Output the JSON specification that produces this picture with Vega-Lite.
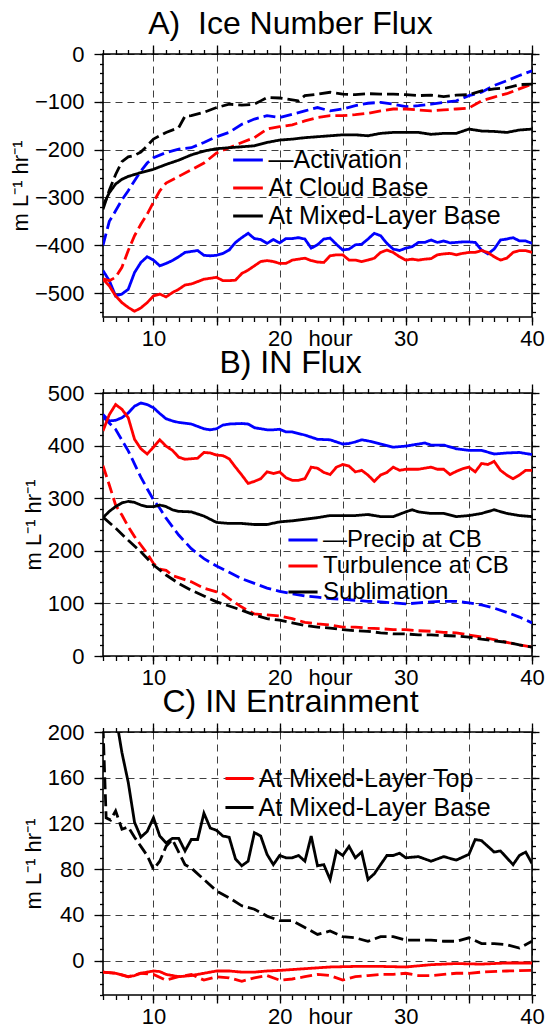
{
"$schema":"https://vega.github.io/schema/vega-lite/v6.json",
"background":"white",
"padding":{"left":8,"top":7,"right":0,"bottom":0},
"config":{
 "font":"Liberation Sans",
 "view":{"stroke":"black","strokeWidth":1.6},
 "axis":{"domain":false,"labelFont":"Liberation Sans","labelFontSize":22,"labelColor":"#000","tickColor":"#000","tickWidth":1.3,"gridColor":"#000","gridDash":[7,5],"gridOpacity":0.75,"gridWidth":1,"titleFont":"Liberation Sans","titleFontSize":22,"titleFontWeight":"normal","titleColor":"#000","labelFlush":false,"labelOverlap":false,"labelBound":false,"grid":false},
 "title":{"font":"Liberation Sans","fontSize":32,"fontWeight":"normal","color":"#000","anchor":"middle","frame":"group","offset":2,"dx":-27},
 "legend":{"orient":"none","title":null,"symbolStrokeWidth":3,"labelFont":"Liberation Sans","labelFontSize":25,"labelColor":"#000","padding":0,"labelLimit":400,"rowPadding":0},
 "concat":{"spacing":-4}
},
"resolve":{"scale":{"x":"independent","y":"independent","color":"independent","strokeDash":"independent"}},
"vconcat":[
{
 "title":{"text":"A)\u00a0\u00a0Ice Number Flux"},
 "width":429,"height":263,
 "data":{"values":[
{"h":6,"v":-453,"s":"Activation","d":"solid"},{"h":6.5,"v":-474,"s":"Activation","d":"solid"},{"h":7,"v":-506,"s":"Activation","d":"solid"},{"h":7.5,"v":-502,"s":"Activation","d":"solid"},{"h":8,"v":-492,"s":"Activation","d":"solid"},{"h":8.5,"v":-457,"s":"Activation","d":"solid"},{"h":9,"v":-436,"s":"Activation","d":"solid"},{"h":9.5,"v":-424,"s":"Activation","d":"solid"},{"h":10,"v":-431,"s":"Activation","d":"solid"},{"h":10.5,"v":-443,"s":"Activation","d":"solid"},{"h":11,"v":-438,"s":"Activation","d":"solid"},{"h":11.5,"v":-432,"s":"Activation","d":"solid"},{"h":12,"v":-424,"s":"Activation","d":"solid"},{"h":12.5,"v":-415,"s":"Activation","d":"solid"},{"h":13,"v":-413,"s":"Activation","d":"solid"},{"h":13.5,"v":-411,"s":"Activation","d":"solid"},{"h":14,"v":-421,"s":"Activation","d":"solid"},{"h":14.5,"v":-422,"s":"Activation","d":"solid"},{"h":15,"v":-421,"s":"Activation","d":"solid"},{"h":15.5,"v":-417,"s":"Activation","d":"solid"},{"h":16,"v":-410,"s":"Activation","d":"solid"},{"h":16.5,"v":-394,"s":"Activation","d":"solid"},{"h":17,"v":-384,"s":"Activation","d":"solid"},{"h":17.5,"v":-375,"s":"Activation","d":"solid"},{"h":18,"v":-386,"s":"Activation","d":"solid"},{"h":18.5,"v":-388,"s":"Activation","d":"solid"},{"h":19,"v":-396,"s":"Activation","d":"solid"},{"h":19.5,"v":-388,"s":"Activation","d":"solid"},{"h":20,"v":-395,"s":"Activation","d":"solid"},{"h":20.5,"v":-386,"s":"Activation","d":"solid"},{"h":21,"v":-386,"s":"Activation","d":"solid"},{"h":21.5,"v":-384,"s":"Activation","d":"solid"},{"h":22,"v":-387,"s":"Activation","d":"solid"},{"h":22.5,"v":-406,"s":"Activation","d":"solid"},{"h":23,"v":-399,"s":"Activation","d":"solid"},{"h":23.5,"v":-387,"s":"Activation","d":"solid"},{"h":24,"v":-385,"s":"Activation","d":"solid"},{"h":24.5,"v":-398,"s":"Activation","d":"solid"},{"h":25,"v":-410,"s":"Activation","d":"solid"},{"h":25.5,"v":-408,"s":"Activation","d":"solid"},{"h":26,"v":-399,"s":"Activation","d":"solid"},{"h":26.5,"v":-398,"s":"Activation","d":"solid"},{"h":27,"v":-387,"s":"Activation","d":"solid"},{"h":27.5,"v":-375,"s":"Activation","d":"solid"},{"h":28,"v":-380,"s":"Activation","d":"solid"},{"h":28.5,"v":-396,"s":"Activation","d":"solid"},{"h":29,"v":-408,"s":"Activation","d":"solid"},{"h":29.5,"v":-411,"s":"Activation","d":"solid"},{"h":30,"v":-406,"s":"Activation","d":"solid"},{"h":30.5,"v":-403,"s":"Activation","d":"solid"},{"h":31,"v":-394,"s":"Activation","d":"solid"},{"h":31.5,"v":-394,"s":"Activation","d":"solid"},{"h":32,"v":-389,"s":"Activation","d":"solid"},{"h":32.5,"v":-394,"s":"Activation","d":"solid"},{"h":33,"v":-391,"s":"Activation","d":"solid"},{"h":33.5,"v":-395,"s":"Activation","d":"solid"},{"h":34,"v":-394,"s":"Activation","d":"solid"},{"h":34.5,"v":-393,"s":"Activation","d":"solid"},{"h":35,"v":-393,"s":"Activation","d":"solid"},{"h":35.5,"v":-394,"s":"Activation","d":"solid"},{"h":36,"v":-410,"s":"Activation","d":"solid"},{"h":36.5,"v":-418,"s":"Activation","d":"solid"},{"h":37,"v":-408,"s":"Activation","d":"solid"},{"h":37.5,"v":-389,"s":"Activation","d":"solid"},{"h":38,"v":-387,"s":"Activation","d":"solid"},{"h":38.5,"v":-384,"s":"Activation","d":"solid"},{"h":39,"v":-391,"s":"Activation","d":"solid"},{"h":39.5,"v":-391,"s":"Activation","d":"solid"},{"h":40,"v":-396,"s":"Activation","d":"solid"},
{"h":6,"v":-400,"s":"Activation","d":"dashed"},{"h":6.5,"v":-350,"s":"Activation","d":"dashed"},{"h":7,"v":-328,"s":"Activation","d":"dashed"},{"h":7.5,"v":-305,"s":"Activation","d":"dashed"},{"h":8,"v":-286,"s":"Activation","d":"dashed"},{"h":8.5,"v":-265,"s":"Activation","d":"dashed"},{"h":9,"v":-245,"s":"Activation","d":"dashed"},{"h":9.5,"v":-228,"s":"Activation","d":"dashed"},{"h":10,"v":-217,"s":"Activation","d":"dashed"},{"h":11,"v":-206,"s":"Activation","d":"dashed"},{"h":12,"v":-199,"s":"Activation","d":"dashed"},{"h":13,"v":-196,"s":"Activation","d":"dashed"},{"h":14,"v":-185,"s":"Activation","d":"dashed"},{"h":15,"v":-173,"s":"Activation","d":"dashed"},{"h":16,"v":-164,"s":"Activation","d":"dashed"},{"h":17,"v":-147,"s":"Activation","d":"dashed"},{"h":18,"v":-136,"s":"Activation","d":"dashed"},{"h":19,"v":-129,"s":"Activation","d":"dashed"},{"h":20,"v":-133,"s":"Activation","d":"dashed"},{"h":21,"v":-126,"s":"Activation","d":"dashed"},{"h":22,"v":-119,"s":"Activation","d":"dashed"},{"h":23,"v":-112,"s":"Activation","d":"dashed"},{"h":24,"v":-119,"s":"Activation","d":"dashed"},{"h":25,"v":-115,"s":"Activation","d":"dashed"},{"h":26,"v":-108,"s":"Activation","d":"dashed"},{"h":27,"v":-103,"s":"Activation","d":"dashed"},{"h":28,"v":-101,"s":"Activation","d":"dashed"},{"h":29,"v":-105,"s":"Activation","d":"dashed"},{"h":30,"v":-110,"s":"Activation","d":"dashed"},{"h":31,"v":-108,"s":"Activation","d":"dashed"},{"h":32,"v":-105,"s":"Activation","d":"dashed"},{"h":33,"v":-101,"s":"Activation","d":"dashed"},{"h":34,"v":-98,"s":"Activation","d":"dashed"},{"h":35,"v":-87,"s":"Activation","d":"dashed"},{"h":36,"v":-80,"s":"Activation","d":"dashed"},{"h":37,"v":-66,"s":"Activation","d":"dashed"},{"h":38,"v":-56,"s":"Activation","d":"dashed"},{"h":39,"v":-45,"s":"Activation","d":"dashed"},{"h":40,"v":-35,"s":"Activation","d":"dashed"},
{"h":6,"v":-471,"s":"At Cloud Base","d":"solid"},{"h":6.5,"v":-485,"s":"At Cloud Base","d":"solid"},{"h":7,"v":-506,"s":"At Cloud Base","d":"solid"},{"h":7.5,"v":-520,"s":"At Cloud Base","d":"solid"},{"h":8,"v":-530,"s":"At Cloud Base","d":"solid"},{"h":8.5,"v":-538,"s":"At Cloud Base","d":"solid"},{"h":9,"v":-531,"s":"At Cloud Base","d":"solid"},{"h":9.5,"v":-520,"s":"At Cloud Base","d":"solid"},{"h":10,"v":-506,"s":"At Cloud Base","d":"solid"},{"h":10.5,"v":-502,"s":"At Cloud Base","d":"solid"},{"h":11,"v":-508,"s":"At Cloud Base","d":"solid"},{"h":11.5,"v":-499,"s":"At Cloud Base","d":"solid"},{"h":12,"v":-492,"s":"At Cloud Base","d":"solid"},{"h":12.5,"v":-483,"s":"At Cloud Base","d":"solid"},{"h":13,"v":-481,"s":"At Cloud Base","d":"solid"},{"h":13.5,"v":-476,"s":"At Cloud Base","d":"solid"},{"h":14,"v":-471,"s":"At Cloud Base","d":"solid"},{"h":14.5,"v":-469,"s":"At Cloud Base","d":"solid"},{"h":15,"v":-467,"s":"At Cloud Base","d":"solid"},{"h":15.5,"v":-474,"s":"At Cloud Base","d":"solid"},{"h":16,"v":-474,"s":"At Cloud Base","d":"solid"},{"h":16.5,"v":-473,"s":"At Cloud Base","d":"solid"},{"h":17,"v":-459,"s":"At Cloud Base","d":"solid"},{"h":17.5,"v":-452,"s":"At Cloud Base","d":"solid"},{"h":18,"v":-443,"s":"At Cloud Base","d":"solid"},{"h":18.5,"v":-434,"s":"At Cloud Base","d":"solid"},{"h":19,"v":-432,"s":"At Cloud Base","d":"solid"},{"h":19.5,"v":-434,"s":"At Cloud Base","d":"solid"},{"h":20,"v":-438,"s":"At Cloud Base","d":"solid"},{"h":20.5,"v":-438,"s":"At Cloud Base","d":"solid"},{"h":21,"v":-431,"s":"At Cloud Base","d":"solid"},{"h":21.5,"v":-429,"s":"At Cloud Base","d":"solid"},{"h":22,"v":-427,"s":"At Cloud Base","d":"solid"},{"h":22.5,"v":-432,"s":"At Cloud Base","d":"solid"},{"h":23,"v":-435,"s":"At Cloud Base","d":"solid"},{"h":23.5,"v":-436,"s":"At Cloud Base","d":"solid"},{"h":24,"v":-422,"s":"At Cloud Base","d":"solid"},{"h":24.5,"v":-420,"s":"At Cloud Base","d":"solid"},{"h":25,"v":-420,"s":"At Cloud Base","d":"solid"},{"h":25.5,"v":-431,"s":"At Cloud Base","d":"solid"},{"h":26,"v":-431,"s":"At Cloud Base","d":"solid"},{"h":26.5,"v":-434,"s":"At Cloud Base","d":"solid"},{"h":27,"v":-431,"s":"At Cloud Base","d":"solid"},{"h":27.5,"v":-427,"s":"At Cloud Base","d":"solid"},{"h":28,"v":-415,"s":"At Cloud Base","d":"solid"},{"h":28.5,"v":-410,"s":"At Cloud Base","d":"solid"},{"h":29,"v":-415,"s":"At Cloud Base","d":"solid"},{"h":29.5,"v":-424,"s":"At Cloud Base","d":"solid"},{"h":30,"v":-431,"s":"At Cloud Base","d":"solid"},{"h":30.5,"v":-429,"s":"At Cloud Base","d":"solid"},{"h":31,"v":-431,"s":"At Cloud Base","d":"solid"},{"h":31.5,"v":-429,"s":"At Cloud Base","d":"solid"},{"h":32,"v":-428,"s":"At Cloud Base","d":"solid"},{"h":32.5,"v":-420,"s":"At Cloud Base","d":"solid"},{"h":33,"v":-418,"s":"At Cloud Base","d":"solid"},{"h":33.5,"v":-417,"s":"At Cloud Base","d":"solid"},{"h":34,"v":-420,"s":"At Cloud Base","d":"solid"},{"h":34.5,"v":-417,"s":"At Cloud Base","d":"solid"},{"h":35,"v":-415,"s":"At Cloud Base","d":"solid"},{"h":35.5,"v":-415,"s":"At Cloud Base","d":"solid"},{"h":36,"v":-411,"s":"At Cloud Base","d":"solid"},{"h":36.5,"v":-415,"s":"At Cloud Base","d":"solid"},{"h":37,"v":-424,"s":"At Cloud Base","d":"solid"},{"h":37.5,"v":-431,"s":"At Cloud Base","d":"solid"},{"h":38,"v":-427,"s":"At Cloud Base","d":"solid"},{"h":38.5,"v":-415,"s":"At Cloud Base","d":"solid"},{"h":39,"v":-411,"s":"At Cloud Base","d":"solid"},{"h":39.5,"v":-411,"s":"At Cloud Base","d":"solid"},{"h":40,"v":-415,"s":"At Cloud Base","d":"solid"},
{"h":6,"v":-470,"s":"At Cloud Base","d":"dashed"},{"h":6.5,"v":-474,"s":"At Cloud Base","d":"dashed"},{"h":7,"v":-467,"s":"At Cloud Base","d":"dashed"},{"h":7.5,"v":-446,"s":"At Cloud Base","d":"dashed"},{"h":8,"v":-411,"s":"At Cloud Base","d":"dashed"},{"h":8.5,"v":-380,"s":"At Cloud Base","d":"dashed"},{"h":9,"v":-356,"s":"At Cloud Base","d":"dashed"},{"h":9.5,"v":-335,"s":"At Cloud Base","d":"dashed"},{"h":10,"v":-310,"s":"At Cloud Base","d":"dashed"},{"h":10.5,"v":-286,"s":"At Cloud Base","d":"dashed"},{"h":11,"v":-270,"s":"At Cloud Base","d":"dashed"},{"h":12,"v":-256,"s":"At Cloud Base","d":"dashed"},{"h":13,"v":-242,"s":"At Cloud Base","d":"dashed"},{"h":14,"v":-228,"s":"At Cloud Base","d":"dashed"},{"h":15,"v":-207,"s":"At Cloud Base","d":"dashed"},{"h":16,"v":-196,"s":"At Cloud Base","d":"dashed"},{"h":17,"v":-185,"s":"At Cloud Base","d":"dashed"},{"h":18,"v":-175,"s":"At Cloud Base","d":"dashed"},{"h":19,"v":-157,"s":"At Cloud Base","d":"dashed"},{"h":20,"v":-152,"s":"At Cloud Base","d":"dashed"},{"h":21,"v":-148,"s":"At Cloud Base","d":"dashed"},{"h":22,"v":-140,"s":"At Cloud Base","d":"dashed"},{"h":23,"v":-133,"s":"At Cloud Base","d":"dashed"},{"h":24,"v":-129,"s":"At Cloud Base","d":"dashed"},{"h":25,"v":-129,"s":"At Cloud Base","d":"dashed"},{"h":26,"v":-127,"s":"At Cloud Base","d":"dashed"},{"h":27,"v":-124,"s":"At Cloud Base","d":"dashed"},{"h":28,"v":-119,"s":"At Cloud Base","d":"dashed"},{"h":29,"v":-115,"s":"At Cloud Base","d":"dashed"},{"h":30,"v":-115,"s":"At Cloud Base","d":"dashed"},{"h":31,"v":-117,"s":"At Cloud Base","d":"dashed"},{"h":32,"v":-119,"s":"At Cloud Base","d":"dashed"},{"h":33,"v":-117,"s":"At Cloud Base","d":"dashed"},{"h":34,"v":-115,"s":"At Cloud Base","d":"dashed"},{"h":35,"v":-113,"s":"At Cloud Base","d":"dashed"},{"h":36,"v":-98,"s":"At Cloud Base","d":"dashed"},{"h":37,"v":-90,"s":"At Cloud Base","d":"dashed"},{"h":38,"v":-83,"s":"At Cloud Base","d":"dashed"},{"h":39,"v":-73,"s":"At Cloud Base","d":"dashed"},{"h":40,"v":-63,"s":"At Cloud Base","d":"dashed"},
{"h":6,"v":-317,"s":"At Mixed-Layer Base","d":"solid"},{"h":6.5,"v":-290,"s":"At Mixed-Layer Base","d":"solid"},{"h":7,"v":-272,"s":"At Mixed-Layer Base","d":"solid"},{"h":7.5,"v":-262,"s":"At Mixed-Layer Base","d":"solid"},{"h":8,"v":-256,"s":"At Mixed-Layer Base","d":"solid"},{"h":9,"v":-248,"s":"At Mixed-Layer Base","d":"solid"},{"h":10,"v":-241,"s":"At Mixed-Layer Base","d":"solid"},{"h":11,"v":-231,"s":"At Mixed-Layer Base","d":"solid"},{"h":12,"v":-222,"s":"At Mixed-Layer Base","d":"solid"},{"h":13,"v":-211,"s":"At Mixed-Layer Base","d":"solid"},{"h":14,"v":-203,"s":"At Mixed-Layer Base","d":"solid"},{"h":15,"v":-198,"s":"At Mixed-Layer Base","d":"solid"},{"h":16,"v":-196,"s":"At Mixed-Layer Base","d":"solid"},{"h":17,"v":-194,"s":"At Mixed-Layer Base","d":"solid"},{"h":18,"v":-192,"s":"At Mixed-Layer Base","d":"solid"},{"h":19,"v":-185,"s":"At Mixed-Layer Base","d":"solid"},{"h":20,"v":-180,"s":"At Mixed-Layer Base","d":"solid"},{"h":21,"v":-178,"s":"At Mixed-Layer Base","d":"solid"},{"h":22,"v":-175,"s":"At Mixed-Layer Base","d":"solid"},{"h":23,"v":-173,"s":"At Mixed-Layer Base","d":"solid"},{"h":24,"v":-171,"s":"At Mixed-Layer Base","d":"solid"},{"h":25,"v":-169,"s":"At Mixed-Layer Base","d":"solid"},{"h":26,"v":-169,"s":"At Mixed-Layer Base","d":"solid"},{"h":27,"v":-171,"s":"At Mixed-Layer Base","d":"solid"},{"h":28,"v":-166,"s":"At Mixed-Layer Base","d":"solid"},{"h":29,"v":-164,"s":"At Mixed-Layer Base","d":"solid"},{"h":30,"v":-164,"s":"At Mixed-Layer Base","d":"solid"},{"h":31,"v":-164,"s":"At Mixed-Layer Base","d":"solid"},{"h":32,"v":-168,"s":"At Mixed-Layer Base","d":"solid"},{"h":33,"v":-166,"s":"At Mixed-Layer Base","d":"solid"},{"h":34,"v":-166,"s":"At Mixed-Layer Base","d":"solid"},{"h":35,"v":-157,"s":"At Mixed-Layer Base","d":"solid"},{"h":36,"v":-161,"s":"At Mixed-Layer Base","d":"solid"},{"h":37,"v":-162,"s":"At Mixed-Layer Base","d":"solid"},{"h":38,"v":-164,"s":"At Mixed-Layer Base","d":"solid"},{"h":39,"v":-159,"s":"At Mixed-Layer Base","d":"solid"},{"h":40,"v":-157,"s":"At Mixed-Layer Base","d":"solid"},
{"h":6,"v":-325,"s":"At Mixed-Layer Base","d":"dashed"},{"h":6.5,"v":-285,"s":"At Mixed-Layer Base","d":"dashed"},{"h":7,"v":-252,"s":"At Mixed-Layer Base","d":"dashed"},{"h":7.5,"v":-225,"s":"At Mixed-Layer Base","d":"dashed"},{"h":8,"v":-215,"s":"At Mixed-Layer Base","d":"dashed"},{"h":8.5,"v":-212,"s":"At Mixed-Layer Base","d":"dashed"},{"h":9,"v":-205,"s":"At Mixed-Layer Base","d":"dashed"},{"h":9.5,"v":-192,"s":"At Mixed-Layer Base","d":"dashed"},{"h":10,"v":-178,"s":"At Mixed-Layer Base","d":"dashed"},{"h":11,"v":-164,"s":"At Mixed-Layer Base","d":"dashed"},{"h":12,"v":-154,"s":"At Mixed-Layer Base","d":"dashed"},{"h":12.5,"v":-130,"s":"At Mixed-Layer Base","d":"dashed"},{"h":13,"v":-129,"s":"At Mixed-Layer Base","d":"dashed"},{"h":14,"v":-122,"s":"At Mixed-Layer Base","d":"dashed"},{"h":15,"v":-112,"s":"At Mixed-Layer Base","d":"dashed"},{"h":16,"v":-105,"s":"At Mixed-Layer Base","d":"dashed"},{"h":17,"v":-107,"s":"At Mixed-Layer Base","d":"dashed"},{"h":18,"v":-105,"s":"At Mixed-Layer Base","d":"dashed"},{"h":18.5,"v":-98,"s":"At Mixed-Layer Base","d":"dashed"},{"h":19,"v":-91,"s":"At Mixed-Layer Base","d":"dashed"},{"h":20,"v":-92,"s":"At Mixed-Layer Base","d":"dashed"},{"h":21,"v":-96,"s":"At Mixed-Layer Base","d":"dashed"},{"h":21.5,"v":-98,"s":"At Mixed-Layer Base","d":"dashed"},{"h":22,"v":-87,"s":"At Mixed-Layer Base","d":"dashed"},{"h":23,"v":-84,"s":"At Mixed-Layer Base","d":"dashed"},{"h":24,"v":-80,"s":"At Mixed-Layer Base","d":"dashed"},{"h":25,"v":-84,"s":"At Mixed-Layer Base","d":"dashed"},{"h":26,"v":-85,"s":"At Mixed-Layer Base","d":"dashed"},{"h":27,"v":-83,"s":"At Mixed-Layer Base","d":"dashed"},{"h":28,"v":-84,"s":"At Mixed-Layer Base","d":"dashed"},{"h":29,"v":-84,"s":"At Mixed-Layer Base","d":"dashed"},{"h":30,"v":-85,"s":"At Mixed-Layer Base","d":"dashed"},{"h":31,"v":-87,"s":"At Mixed-Layer Base","d":"dashed"},{"h":32,"v":-86,"s":"At Mixed-Layer Base","d":"dashed"},{"h":33,"v":-89,"s":"At Mixed-Layer Base","d":"dashed"},{"h":34,"v":-86,"s":"At Mixed-Layer Base","d":"dashed"},{"h":35,"v":-85,"s":"At Mixed-Layer Base","d":"dashed"},{"h":36,"v":-77,"s":"At Mixed-Layer Base","d":"dashed"},{"h":37,"v":-73,"s":"At Mixed-Layer Base","d":"dashed"},{"h":38,"v":-71,"s":"At Mixed-Layer Base","d":"dashed"},{"h":39,"v":-64,"s":"At Mixed-Layer Base","d":"dashed"},{"h":40,"v":-63,"s":"At Mixed-Layer Base","d":"dashed"}
 ]},
 "layer":[
  {"mark":{"type":"line","strokeWidth":2.8,"clip":true},
   "encoding":{
    "x":{"field":"h","type":"quantitative","scale":{"domain":[6,40],"nice":false,"zero":false},"axis":{"orient":"bottom","values":[10,15,20,25,30,35,40],"labelExpr":"datum.value % 10 == 0 ? datum.label : ''","grid":true,"tickSize":8,"labelPadding":3,"title":null}},
    "y":{"field":"v","type":"quantitative","scale":{"domain":[-550,0],"nice":false,"zero":false},"axis":{"orient":"left","values":[-500,-400,-300,-200,-100,0],"grid":true,"tickSize":9,"labelPadding":10,"title":"m L⁻¹ hr⁻¹","titlePadding":2}},
    "color":{"field":"s","type":"nominal","scale":{"domain":["Activation","At Cloud Base","At Mixed-Layer Base"],"range":["#0000ff","#ff0000","#000000"]},"legend":{"legendX":130,"legendY":91,"symbolType":"M-1.1,0H1.1","symbolSize":729,"labelOffset":5.5,"labelExpr":"datum.label == 'Activation' ? '—Activation' : datum.label"}},
    "strokeDash":{"field":"d","type":"nominal","scale":{"domain":["solid","dashed"],"range":[[1,0],[12,5]]},"legend":null}
   }},
  {"mark":{"type":"point","opacity":0,"clip":true},
   "encoding":{
    "x":{"field":"h","type":"quantitative","scale":{"domain":[6,40],"nice":false,"zero":false},"axis":{"orient":"bottom","values":[6,7,8,9,10,11,12,13,14,15,16,17,18,19,20,21,22,23,24,25,26,27,28,29,30,31,32,33,34,35,36,37,38,39,40],"labelExpr":"datum.value == 24 ? 'hour' : ''","tickSize":4.5,"labelPadding":6.5,"title":null}},
    "y":{"field":"v","type":"quantitative","scale":{"domain":[-550,0],"nice":false,"zero":false},"axis":{"orient":"right","values":[-500,-400,-300,-200,-100,0],"labels":false,"tickSize":7,"title":null}}
   }},
  {"mark":{"type":"point","opacity":0,"clip":true},
   "encoding":{
    "x":{"field":"h","type":"quantitative","scale":{"domain":[6,40],"nice":false,"zero":false},"axis":{"orient":"top","values":[10,15,20,25,30,35,40],"labels":false,"tickSize":9,"title":null}},
    "y":{"field":"v","type":"quantitative","scale":{"domain":[-550,0],"nice":false,"zero":false},"axis":{"orient":"left","values":[-540,-520,-500,-480,-460,-440,-420,-400,-380,-360,-340,-320,-300,-280,-260,-240,-220,-200,-180,-160,-140,-120,-100,-80,-60,-40,-20,0],"labels":false,"tickSize":3.5,"title":null}}
   }},
  {"mark":{"type":"point","opacity":0,"clip":true},
   "encoding":{
    "x":{"field":"h","type":"quantitative","scale":{"domain":[6,40],"nice":false,"zero":false},"axis":{"orient":"top","values":[6,7,8,9,10,11,12,13,14,15,16,17,18,19,20,21,22,23,24,25,26,27,28,29,30,31,32,33,34,35,36,37,38,39,40],"labels":false,"tickSize":4.5,"title":null}},
    "y":{"field":"v","type":"quantitative","scale":{"domain":[-550,0],"nice":false,"zero":false},"axis":{"orient":"right","values":[-540,-520,-500,-480,-460,-440,-420,-400,-380,-360,-340,-320,-300,-280,-260,-240,-220,-200,-180,-160,-140,-120,-100,-80,-60,-40,-20,0],"labels":false,"tickSize":3.5,"title":null}}
   }}
 ],
 "resolve":{"axis":{"x":"independent","y":"independent"}}
},
{
 "title":{"text":"B) IN Flux"},
 "width":429,"height":263,
 "data":{"values":[
{"h":6,"v":459,"s":"Precip at CB","d":"solid"},{"h":6.5,"v":447,"s":"Precip at CB","d":"solid"},{"h":7,"v":448,"s":"Precip at CB","d":"solid"},{"h":7.5,"v":453,"s":"Precip at CB","d":"solid"},{"h":8,"v":462,"s":"Precip at CB","d":"solid"},{"h":8.5,"v":475,"s":"Precip at CB","d":"solid"},{"h":9,"v":481,"s":"Precip at CB","d":"solid"},{"h":9.5,"v":478,"s":"Precip at CB","d":"solid"},{"h":10,"v":472,"s":"Precip at CB","d":"solid"},{"h":10.5,"v":461,"s":"Precip at CB","d":"solid"},{"h":11,"v":451,"s":"Precip at CB","d":"solid"},{"h":11.5,"v":447,"s":"Precip at CB","d":"solid"},{"h":12,"v":444,"s":"Precip at CB","d":"solid"},{"h":13,"v":441,"s":"Precip at CB","d":"solid"},{"h":14,"v":432,"s":"Precip at CB","d":"solid"},{"h":14.5,"v":430,"s":"Precip at CB","d":"solid"},{"h":15,"v":432,"s":"Precip at CB","d":"solid"},{"h":15.5,"v":439,"s":"Precip at CB","d":"solid"},{"h":16,"v":441,"s":"Precip at CB","d":"solid"},{"h":17,"v":442,"s":"Precip at CB","d":"solid"},{"h":17.5,"v":441,"s":"Precip at CB","d":"solid"},{"h":18,"v":434,"s":"Precip at CB","d":"solid"},{"h":19,"v":430,"s":"Precip at CB","d":"solid"},{"h":19.5,"v":430,"s":"Precip at CB","d":"solid"},{"h":20,"v":431,"s":"Precip at CB","d":"solid"},{"h":20.5,"v":426,"s":"Precip at CB","d":"solid"},{"h":21,"v":426,"s":"Precip at CB","d":"solid"},{"h":22,"v":420,"s":"Precip at CB","d":"solid"},{"h":23,"v":412,"s":"Precip at CB","d":"solid"},{"h":24,"v":411,"s":"Precip at CB","d":"solid"},{"h":25,"v":403,"s":"Precip at CB","d":"solid"},{"h":25.5,"v":404,"s":"Precip at CB","d":"solid"},{"h":26,"v":407,"s":"Precip at CB","d":"solid"},{"h":26.5,"v":411,"s":"Precip at CB","d":"solid"},{"h":27,"v":409,"s":"Precip at CB","d":"solid"},{"h":28,"v":403,"s":"Precip at CB","d":"solid"},{"h":29,"v":397,"s":"Precip at CB","d":"solid"},{"h":30,"v":399,"s":"Precip at CB","d":"solid"},{"h":31,"v":403,"s":"Precip at CB","d":"solid"},{"h":31.5,"v":405,"s":"Precip at CB","d":"solid"},{"h":32,"v":401,"s":"Precip at CB","d":"solid"},{"h":33,"v":401,"s":"Precip at CB","d":"solid"},{"h":34,"v":394,"s":"Precip at CB","d":"solid"},{"h":35,"v":391,"s":"Precip at CB","d":"solid"},{"h":36,"v":391,"s":"Precip at CB","d":"solid"},{"h":37,"v":384,"s":"Precip at CB","d":"solid"},{"h":38,"v":386,"s":"Precip at CB","d":"solid"},{"h":39,"v":387,"s":"Precip at CB","d":"solid"},{"h":40,"v":383,"s":"Precip at CB","d":"solid"},
{"h":6,"v":455,"s":"Precip at CB","d":"dashed"},{"h":7,"v":431,"s":"Precip at CB","d":"dashed"},{"h":8,"v":390,"s":"Precip at CB","d":"dashed"},{"h":9,"v":340,"s":"Precip at CB","d":"dashed"},{"h":9.5,"v":318,"s":"Precip at CB","d":"dashed"},{"h":10,"v":297,"s":"Precip at CB","d":"dashed"},{"h":10.5,"v":281,"s":"Precip at CB","d":"dashed"},{"h":11,"v":262,"s":"Precip at CB","d":"dashed"},{"h":12,"v":230,"s":"Precip at CB","d":"dashed"},{"h":13,"v":204,"s":"Precip at CB","d":"dashed"},{"h":14,"v":185,"s":"Precip at CB","d":"dashed"},{"h":15,"v":171,"s":"Precip at CB","d":"dashed"},{"h":16,"v":159,"s":"Precip at CB","d":"dashed"},{"h":17,"v":147,"s":"Precip at CB","d":"dashed"},{"h":18,"v":138,"s":"Precip at CB","d":"dashed"},{"h":19,"v":129,"s":"Precip at CB","d":"dashed"},{"h":20,"v":123,"s":"Precip at CB","d":"dashed"},{"h":21,"v":118,"s":"Precip at CB","d":"dashed"},{"h":22,"v":114,"s":"Precip at CB","d":"dashed"},{"h":23,"v":112,"s":"Precip at CB","d":"dashed"},{"h":24,"v":109,"s":"Precip at CB","d":"dashed"},{"h":25,"v":108,"s":"Precip at CB","d":"dashed"},{"h":26,"v":106,"s":"Precip at CB","d":"dashed"},{"h":27,"v":104,"s":"Precip at CB","d":"dashed"},{"h":28,"v":103,"s":"Precip at CB","d":"dashed"},{"h":29,"v":101,"s":"Precip at CB","d":"dashed"},{"h":30,"v":99,"s":"Precip at CB","d":"dashed"},{"h":31,"v":101,"s":"Precip at CB","d":"dashed"},{"h":32,"v":103,"s":"Precip at CB","d":"dashed"},{"h":33,"v":104,"s":"Precip at CB","d":"dashed"},{"h":34,"v":104,"s":"Precip at CB","d":"dashed"},{"h":35,"v":101,"s":"Precip at CB","d":"dashed"},{"h":36,"v":97,"s":"Precip at CB","d":"dashed"},{"h":37,"v":91,"s":"Precip at CB","d":"dashed"},{"h":38,"v":83,"s":"Precip at CB","d":"dashed"},{"h":39,"v":74,"s":"Precip at CB","d":"dashed"},{"h":40,"v":63,"s":"Precip at CB","d":"dashed"},
{"h":6,"v":428,"s":"Turbulence at CB","d":"solid"},{"h":6.5,"v":459,"s":"Turbulence at CB","d":"solid"},{"h":7,"v":478,"s":"Turbulence at CB","d":"solid"},{"h":7.5,"v":469,"s":"Turbulence at CB","d":"solid"},{"h":8,"v":453,"s":"Turbulence at CB","d":"solid"},{"h":8.5,"v":412,"s":"Turbulence at CB","d":"solid"},{"h":9,"v":394,"s":"Turbulence at CB","d":"solid"},{"h":9.5,"v":384,"s":"Turbulence at CB","d":"solid"},{"h":10,"v":397,"s":"Turbulence at CB","d":"solid"},{"h":10.5,"v":411,"s":"Turbulence at CB","d":"solid"},{"h":11,"v":399,"s":"Turbulence at CB","d":"solid"},{"h":11.5,"v":391,"s":"Turbulence at CB","d":"solid"},{"h":12,"v":378,"s":"Turbulence at CB","d":"solid"},{"h":12.5,"v":374,"s":"Turbulence at CB","d":"solid"},{"h":13,"v":375,"s":"Turbulence at CB","d":"solid"},{"h":13.5,"v":376,"s":"Turbulence at CB","d":"solid"},{"h":14,"v":387,"s":"Turbulence at CB","d":"solid"},{"h":14.5,"v":386,"s":"Turbulence at CB","d":"solid"},{"h":15,"v":382,"s":"Turbulence at CB","d":"solid"},{"h":15.5,"v":381,"s":"Turbulence at CB","d":"solid"},{"h":16,"v":375,"s":"Turbulence at CB","d":"solid"},{"h":16.5,"v":359,"s":"Turbulence at CB","d":"solid"},{"h":17,"v":344,"s":"Turbulence at CB","d":"solid"},{"h":17.5,"v":328,"s":"Turbulence at CB","d":"solid"},{"h":18,"v":332,"s":"Turbulence at CB","d":"solid"},{"h":18.5,"v":337,"s":"Turbulence at CB","d":"solid"},{"h":19,"v":350,"s":"Turbulence at CB","d":"solid"},{"h":19.5,"v":347,"s":"Turbulence at CB","d":"solid"},{"h":20,"v":350,"s":"Turbulence at CB","d":"solid"},{"h":20.5,"v":339,"s":"Turbulence at CB","d":"solid"},{"h":21,"v":334,"s":"Turbulence at CB","d":"solid"},{"h":21.5,"v":334,"s":"Turbulence at CB","d":"solid"},{"h":22,"v":337,"s":"Turbulence at CB","d":"solid"},{"h":22.5,"v":359,"s":"Turbulence at CB","d":"solid"},{"h":23,"v":357,"s":"Turbulence at CB","d":"solid"},{"h":23.5,"v":349,"s":"Turbulence at CB","d":"solid"},{"h":24,"v":345,"s":"Turbulence at CB","d":"solid"},{"h":24.5,"v":359,"s":"Turbulence at CB","d":"solid"},{"h":25,"v":364,"s":"Turbulence at CB","d":"solid"},{"h":25.5,"v":361,"s":"Turbulence at CB","d":"solid"},{"h":26,"v":350,"s":"Turbulence at CB","d":"solid"},{"h":26.5,"v":353,"s":"Turbulence at CB","d":"solid"},{"h":27,"v":344,"s":"Turbulence at CB","d":"solid"},{"h":27.5,"v":332,"s":"Turbulence at CB","d":"solid"},{"h":28,"v":344,"s":"Turbulence at CB","d":"solid"},{"h":28.5,"v":349,"s":"Turbulence at CB","d":"solid"},{"h":29,"v":359,"s":"Turbulence at CB","d":"solid"},{"h":29.5,"v":353,"s":"Turbulence at CB","d":"solid"},{"h":30,"v":355,"s":"Turbulence at CB","d":"solid"},{"h":31,"v":355,"s":"Turbulence at CB","d":"solid"},{"h":32,"v":359,"s":"Turbulence at CB","d":"solid"},{"h":32.5,"v":355,"s":"Turbulence at CB","d":"solid"},{"h":33,"v":355,"s":"Turbulence at CB","d":"solid"},{"h":33.5,"v":345,"s":"Turbulence at CB","d":"solid"},{"h":34,"v":351,"s":"Turbulence at CB","d":"solid"},{"h":34.5,"v":356,"s":"Turbulence at CB","d":"solid"},{"h":35,"v":359,"s":"Turbulence at CB","d":"solid"},{"h":35.5,"v":350,"s":"Turbulence at CB","d":"solid"},{"h":36,"v":366,"s":"Turbulence at CB","d":"solid"},{"h":36.5,"v":364,"s":"Turbulence at CB","d":"solid"},{"h":37,"v":370,"s":"Turbulence at CB","d":"solid"},{"h":37.5,"v":353,"s":"Turbulence at CB","d":"solid"},{"h":38,"v":344,"s":"Turbulence at CB","d":"solid"},{"h":38.5,"v":337,"s":"Turbulence at CB","d":"solid"},{"h":39,"v":344,"s":"Turbulence at CB","d":"solid"},{"h":39.5,"v":353,"s":"Turbulence at CB","d":"solid"},{"h":40,"v":353,"s":"Turbulence at CB","d":"solid"},
{"h":6,"v":362,"s":"Turbulence at CB","d":"dashed"},{"h":6.5,"v":325,"s":"Turbulence at CB","d":"dashed"},{"h":7,"v":287,"s":"Turbulence at CB","d":"dashed"},{"h":7.5,"v":268,"s":"Turbulence at CB","d":"dashed"},{"h":8,"v":246,"s":"Turbulence at CB","d":"dashed"},{"h":8.5,"v":227,"s":"Turbulence at CB","d":"dashed"},{"h":9,"v":211,"s":"Turbulence at CB","d":"dashed"},{"h":9.5,"v":195,"s":"Turbulence at CB","d":"dashed"},{"h":10,"v":176,"s":"Turbulence at CB","d":"dashed"},{"h":10.5,"v":165,"s":"Turbulence at CB","d":"dashed"},{"h":11,"v":163,"s":"Turbulence at CB","d":"dashed"},{"h":11.5,"v":153,"s":"Turbulence at CB","d":"dashed"},{"h":12,"v":149,"s":"Turbulence at CB","d":"dashed"},{"h":13,"v":141,"s":"Turbulence at CB","d":"dashed"},{"h":14,"v":129,"s":"Turbulence at CB","d":"dashed"},{"h":15,"v":122,"s":"Turbulence at CB","d":"dashed"},{"h":15.5,"v":118,"s":"Turbulence at CB","d":"dashed"},{"h":16,"v":109,"s":"Turbulence at CB","d":"dashed"},{"h":17,"v":93,"s":"Turbulence at CB","d":"dashed"},{"h":18,"v":80,"s":"Turbulence at CB","d":"dashed"},{"h":19,"v":78,"s":"Turbulence at CB","d":"dashed"},{"h":20,"v":76,"s":"Turbulence at CB","d":"dashed"},{"h":21,"v":71,"s":"Turbulence at CB","d":"dashed"},{"h":22,"v":64,"s":"Turbulence at CB","d":"dashed"},{"h":23,"v":61,"s":"Turbulence at CB","d":"dashed"},{"h":24,"v":59,"s":"Turbulence at CB","d":"dashed"},{"h":25,"v":55,"s":"Turbulence at CB","d":"dashed"},{"h":26,"v":55,"s":"Turbulence at CB","d":"dashed"},{"h":27,"v":53,"s":"Turbulence at CB","d":"dashed"},{"h":28,"v":52,"s":"Turbulence at CB","d":"dashed"},{"h":29,"v":50,"s":"Turbulence at CB","d":"dashed"},{"h":30,"v":50,"s":"Turbulence at CB","d":"dashed"},{"h":31,"v":48,"s":"Turbulence at CB","d":"dashed"},{"h":32,"v":47,"s":"Turbulence at CB","d":"dashed"},{"h":33,"v":45,"s":"Turbulence at CB","d":"dashed"},{"h":34,"v":44,"s":"Turbulence at CB","d":"dashed"},{"h":35,"v":40,"s":"Turbulence at CB","d":"dashed"},{"h":36,"v":36,"s":"Turbulence at CB","d":"dashed"},{"h":37,"v":31,"s":"Turbulence at CB","d":"dashed"},{"h":38,"v":26,"s":"Turbulence at CB","d":"dashed"},{"h":39,"v":21,"s":"Turbulence at CB","d":"dashed"},{"h":40,"v":17,"s":"Turbulence at CB","d":"dashed"},
{"h":6,"v":263,"s":"Sublimation","d":"solid"},{"h":6.5,"v":275,"s":"Sublimation","d":"solid"},{"h":7,"v":284,"s":"Sublimation","d":"solid"},{"h":7.5,"v":291,"s":"Sublimation","d":"solid"},{"h":8,"v":294,"s":"Sublimation","d":"solid"},{"h":8.5,"v":292,"s":"Sublimation","d":"solid"},{"h":9,"v":287,"s":"Sublimation","d":"solid"},{"h":9.5,"v":284,"s":"Sublimation","d":"solid"},{"h":10,"v":284,"s":"Sublimation","d":"solid"},{"h":10.5,"v":287,"s":"Sublimation","d":"solid"},{"h":11,"v":284,"s":"Sublimation","d":"solid"},{"h":11.5,"v":278,"s":"Sublimation","d":"solid"},{"h":12,"v":275,"s":"Sublimation","d":"solid"},{"h":13,"v":274,"s":"Sublimation","d":"solid"},{"h":14,"v":266,"s":"Sublimation","d":"solid"},{"h":15,"v":254,"s":"Sublimation","d":"solid"},{"h":16,"v":252,"s":"Sublimation","d":"solid"},{"h":17,"v":252,"s":"Sublimation","d":"solid"},{"h":18,"v":250,"s":"Sublimation","d":"solid"},{"h":19,"v":250,"s":"Sublimation","d":"solid"},{"h":20,"v":255,"s":"Sublimation","d":"solid"},{"h":21,"v":257,"s":"Sublimation","d":"solid"},{"h":22,"v":260,"s":"Sublimation","d":"solid"},{"h":23,"v":263,"s":"Sublimation","d":"solid"},{"h":24,"v":267,"s":"Sublimation","d":"solid"},{"h":25,"v":267,"s":"Sublimation","d":"solid"},{"h":26,"v":267,"s":"Sublimation","d":"solid"},{"h":27,"v":269,"s":"Sublimation","d":"solid"},{"h":28,"v":265,"s":"Sublimation","d":"solid"},{"h":29,"v":265,"s":"Sublimation","d":"solid"},{"h":30,"v":274,"s":"Sublimation","d":"solid"},{"h":30.5,"v":278,"s":"Sublimation","d":"solid"},{"h":31,"v":274,"s":"Sublimation","d":"solid"},{"h":32,"v":271,"s":"Sublimation","d":"solid"},{"h":33,"v":271,"s":"Sublimation","d":"solid"},{"h":34,"v":265,"s":"Sublimation","d":"solid"},{"h":35,"v":267,"s":"Sublimation","d":"solid"},{"h":36,"v":271,"s":"Sublimation","d":"solid"},{"h":37,"v":278,"s":"Sublimation","d":"solid"},{"h":38,"v":271,"s":"Sublimation","d":"solid"},{"h":39,"v":267,"s":"Sublimation","d":"solid"},{"h":40,"v":265,"s":"Sublimation","d":"solid"},
{"h":6,"v":264,"s":"Sublimation","d":"dashed"},{"h":7,"v":243,"s":"Sublimation","d":"dashed"},{"h":8,"v":220,"s":"Sublimation","d":"dashed"},{"h":9,"v":198,"s":"Sublimation","d":"dashed"},{"h":10,"v":173,"s":"Sublimation","d":"dashed"},{"h":11,"v":154,"s":"Sublimation","d":"dashed"},{"h":12,"v":138,"s":"Sublimation","d":"dashed"},{"h":13,"v":125,"s":"Sublimation","d":"dashed"},{"h":14,"v":114,"s":"Sublimation","d":"dashed"},{"h":15,"v":103,"s":"Sublimation","d":"dashed"},{"h":16,"v":95,"s":"Sublimation","d":"dashed"},{"h":17,"v":87,"s":"Sublimation","d":"dashed"},{"h":18,"v":78,"s":"Sublimation","d":"dashed"},{"h":19,"v":71,"s":"Sublimation","d":"dashed"},{"h":20,"v":68,"s":"Sublimation","d":"dashed"},{"h":21,"v":63,"s":"Sublimation","d":"dashed"},{"h":22,"v":58,"s":"Sublimation","d":"dashed"},{"h":23,"v":55,"s":"Sublimation","d":"dashed"},{"h":24,"v":53,"s":"Sublimation","d":"dashed"},{"h":25,"v":50,"s":"Sublimation","d":"dashed"},{"h":26,"v":48,"s":"Sublimation","d":"dashed"},{"h":27,"v":47,"s":"Sublimation","d":"dashed"},{"h":28,"v":44,"s":"Sublimation","d":"dashed"},{"h":29,"v":42,"s":"Sublimation","d":"dashed"},{"h":30,"v":42,"s":"Sublimation","d":"dashed"},{"h":31,"v":40,"s":"Sublimation","d":"dashed"},{"h":32,"v":40,"s":"Sublimation","d":"dashed"},{"h":33,"v":39,"s":"Sublimation","d":"dashed"},{"h":34,"v":38,"s":"Sublimation","d":"dashed"},{"h":35,"v":36,"s":"Sublimation","d":"dashed"},{"h":36,"v":32,"s":"Sublimation","d":"dashed"},{"h":37,"v":29,"s":"Sublimation","d":"dashed"},{"h":38,"v":26,"s":"Sublimation","d":"dashed"},{"h":39,"v":21,"s":"Sublimation","d":"dashed"},{"h":40,"v":17,"s":"Sublimation","d":"dashed"}
 ]},
 "layer":[
  {"mark":{"type":"line","strokeWidth":2.8,"clip":true},
   "encoding":{
    "x":{"field":"h","type":"quantitative","scale":{"domain":[6,40],"nice":false,"zero":false},"axis":{"orient":"bottom","values":[10,15,20,25,30,35,40],"labelExpr":"datum.value % 10 == 0 ? datum.label : ''","grid":true,"tickSize":8,"labelPadding":3,"title":null}},
    "y":{"field":"v","type":"quantitative","scale":{"domain":[0,500],"nice":false,"zero":false},"axis":{"orient":"left","values":[0,100,200,300,400,500],"grid":true,"tickSize":9,"labelPadding":10,"title":"m L⁻¹ hr⁻¹","titlePadding":2}},
    "color":{"field":"s","type":"nominal","scale":{"domain":["Precip at CB","Turbulence at CB","Sublimation"],"range":["#0000ff","#ff0000","#000000"]},"legend":{"legendX":186,"legendY":133,"symbolType":"M-1.18,0H1.18","symbolSize":610,"labelFontSize":24,"labelOffset":6,"labelExpr":"datum.label == 'Precip at CB' ? '—Precip at CB' : datum.label"}},
    "strokeDash":{"field":"d","type":"nominal","scale":{"domain":["solid","dashed"],"range":[[1,0],[12,5]]},"legend":null}
   }},
  {"mark":{"type":"point","opacity":0,"clip":true},
   "encoding":{
    "x":{"field":"h","type":"quantitative","scale":{"domain":[6,40],"nice":false,"zero":false},"axis":{"orient":"bottom","values":[6,7,8,9,10,11,12,13,14,15,16,17,18,19,20,21,22,23,24,25,26,27,28,29,30,31,32,33,34,35,36,37,38,39,40],"labelExpr":"datum.value == 24 ? 'hour' : ''","tickSize":4.5,"labelPadding":6.5,"title":null}},
    "y":{"field":"v","type":"quantitative","scale":{"domain":[0,500],"nice":false,"zero":false},"axis":{"orient":"right","values":[0,100,200,300,400,500],"labels":false,"tickSize":7,"title":null}}
   }},
  {"mark":{"type":"point","opacity":0,"clip":true},
   "encoding":{
    "x":{"field":"h","type":"quantitative","scale":{"domain":[6,40],"nice":false,"zero":false},"axis":{"orient":"top","values":[10,15,20,25,30,35,40],"labels":false,"tickSize":9,"title":null}},
    "y":{"field":"v","type":"quantitative","scale":{"domain":[0,500],"nice":false,"zero":false},"axis":{"orient":"left","values":[0,20,40,60,80,100,120,140,160,180,200,220,240,260,280,300,320,340,360,380,400,420,440,460,480,500],"labels":false,"tickSize":3.5,"title":null}}
   }},
  {"mark":{"type":"point","opacity":0,"clip":true},
   "encoding":{
    "x":{"field":"h","type":"quantitative","scale":{"domain":[6,40],"nice":false,"zero":false},"axis":{"orient":"top","values":[6,7,8,9,10,11,12,13,14,15,16,17,18,19,20,21,22,23,24,25,26,27,28,29,30,31,32,33,34,35,36,37,38,39,40],"labels":false,"tickSize":4.5,"title":null}},
    "y":{"field":"v","type":"quantitative","scale":{"domain":[0,500],"nice":false,"zero":false},"axis":{"orient":"right","values":[0,20,40,60,80,100,120,140,160,180,200,220,240,260,280,300,320,340,360,380,400,420,440,460,480,500],"labels":false,"tickSize":3.5,"title":null}}
   }}
 ],
 "resolve":{"axis":{"x":"independent","y":"independent"}}
},
{
 "title":{"text":"C) IN Entrainment"},
 "width":429,"height":263,
 "data":{"values":[
{"h":6,"v":-10,"s":"At Mixed-Layer Top","d":"solid"},{"h":7,"v":-11,"s":"At Mixed-Layer Top","d":"solid"},{"h":8,"v":-14,"s":"At Mixed-Layer Top","d":"solid"},{"h":8.5,"v":-13,"s":"At Mixed-Layer Top","d":"solid"},{"h":9,"v":-11,"s":"At Mixed-Layer Top","d":"solid"},{"h":10,"v":-9,"s":"At Mixed-Layer Top","d":"solid"},{"h":10.5,"v":-9.5,"s":"At Mixed-Layer Top","d":"solid"},{"h":11,"v":-12,"s":"At Mixed-Layer Top","d":"solid"},{"h":12,"v":-14,"s":"At Mixed-Layer Top","d":"solid"},{"h":13,"v":-13,"s":"At Mixed-Layer Top","d":"solid"},{"h":14,"v":-11,"s":"At Mixed-Layer Top","d":"solid"},{"h":15,"v":-9,"s":"At Mixed-Layer Top","d":"solid"},{"h":16,"v":-9,"s":"At Mixed-Layer Top","d":"solid"},{"h":17,"v":-10,"s":"At Mixed-Layer Top","d":"solid"},{"h":18,"v":-10,"s":"At Mixed-Layer Top","d":"solid"},{"h":19,"v":-9,"s":"At Mixed-Layer Top","d":"solid"},{"h":20,"v":-8.5,"s":"At Mixed-Layer Top","d":"solid"},{"h":22,"v":-7,"s":"At Mixed-Layer Top","d":"solid"},{"h":24,"v":-5.5,"s":"At Mixed-Layer Top","d":"solid"},{"h":26,"v":-5,"s":"At Mixed-Layer Top","d":"solid"},{"h":28,"v":-5,"s":"At Mixed-Layer Top","d":"solid"},{"h":30,"v":-5.5,"s":"At Mixed-Layer Top","d":"solid"},{"h":32,"v":-3.5,"s":"At Mixed-Layer Top","d":"solid"},{"h":34,"v":-2.5,"s":"At Mixed-Layer Top","d":"solid"},{"h":36,"v":-3,"s":"At Mixed-Layer Top","d":"solid"},{"h":38,"v":-2,"s":"At Mixed-Layer Top","d":"solid"},{"h":40,"v":-2,"s":"At Mixed-Layer Top","d":"solid"},
{"h":6,"v":-10,"s":"At Mixed-Layer Top","d":"dashed"},{"h":7,"v":-11,"s":"At Mixed-Layer Top","d":"dashed"},{"h":8,"v":-14,"s":"At Mixed-Layer Top","d":"dashed"},{"h":9,"v":-11,"s":"At Mixed-Layer Top","d":"dashed"},{"h":10,"v":-12,"s":"At Mixed-Layer Top","d":"dashed"},{"h":11,"v":-17,"s":"At Mixed-Layer Top","d":"dashed"},{"h":12,"v":-14,"s":"At Mixed-Layer Top","d":"dashed"},{"h":13,"v":-12,"s":"At Mixed-Layer Top","d":"dashed"},{"h":14,"v":-17,"s":"At Mixed-Layer Top","d":"dashed"},{"h":15,"v":-14,"s":"At Mixed-Layer Top","d":"dashed"},{"h":16,"v":-15,"s":"At Mixed-Layer Top","d":"dashed"},{"h":17,"v":-18,"s":"At Mixed-Layer Top","d":"dashed"},{"h":18,"v":-15,"s":"At Mixed-Layer Top","d":"dashed"},{"h":19,"v":-13,"s":"At Mixed-Layer Top","d":"dashed"},{"h":20,"v":-17,"s":"At Mixed-Layer Top","d":"dashed"},{"h":21,"v":-16,"s":"At Mixed-Layer Top","d":"dashed"},{"h":22,"v":-14,"s":"At Mixed-Layer Top","d":"dashed"},{"h":23,"v":-12,"s":"At Mixed-Layer Top","d":"dashed"},{"h":24,"v":-13,"s":"At Mixed-Layer Top","d":"dashed"},{"h":25,"v":-17,"s":"At Mixed-Layer Top","d":"dashed"},{"h":26,"v":-14,"s":"At Mixed-Layer Top","d":"dashed"},{"h":27,"v":-13,"s":"At Mixed-Layer Top","d":"dashed"},{"h":28,"v":-12,"s":"At Mixed-Layer Top","d":"dashed"},{"h":29,"v":-12,"s":"At Mixed-Layer Top","d":"dashed"},{"h":30,"v":-11,"s":"At Mixed-Layer Top","d":"dashed"},{"h":31,"v":-13,"s":"At Mixed-Layer Top","d":"dashed"},{"h":32,"v":-13,"s":"At Mixed-Layer Top","d":"dashed"},{"h":33,"v":-12,"s":"At Mixed-Layer Top","d":"dashed"},{"h":34,"v":-11,"s":"At Mixed-Layer Top","d":"dashed"},{"h":35,"v":-11,"s":"At Mixed-Layer Top","d":"dashed"},{"h":36,"v":-10,"s":"At Mixed-Layer Top","d":"dashed"},{"h":38,"v":-9,"s":"At Mixed-Layer Top","d":"dashed"},{"h":40,"v":-8.5,"s":"At Mixed-Layer Top","d":"dashed"},
{"h":6,"v":260,"s":"At Mixed-Layer Base","d":"solid"},{"h":6.5,"v":235,"s":"At Mixed-Layer Base","d":"solid"},{"h":7,"v":215,"s":"At Mixed-Layer Base","d":"solid"},{"h":7.5,"v":182,"s":"At Mixed-Layer Base","d":"solid"},{"h":8,"v":156,"s":"At Mixed-Layer Base","d":"solid"},{"h":8.5,"v":121,"s":"At Mixed-Layer Base","d":"solid"},{"h":9,"v":108,"s":"At Mixed-Layer Base","d":"solid"},{"h":9.5,"v":113,"s":"At Mixed-Layer Base","d":"solid"},{"h":10,"v":125,"s":"At Mixed-Layer Base","d":"solid"},{"h":10.5,"v":109,"s":"At Mixed-Layer Base","d":"solid"},{"h":11,"v":103,"s":"At Mixed-Layer Base","d":"solid"},{"h":11.5,"v":107,"s":"At Mixed-Layer Base","d":"solid"},{"h":12,"v":107,"s":"At Mixed-Layer Base","d":"solid"},{"h":12.5,"v":96,"s":"At Mixed-Layer Base","d":"solid"},{"h":13,"v":106,"s":"At Mixed-Layer Base","d":"solid"},{"h":13.5,"v":106,"s":"At Mixed-Layer Base","d":"solid"},{"h":14,"v":129,"s":"At Mixed-Layer Base","d":"solid"},{"h":14.5,"v":116,"s":"At Mixed-Layer Base","d":"solid"},{"h":15,"v":114,"s":"At Mixed-Layer Base","d":"solid"},{"h":15.5,"v":109,"s":"At Mixed-Layer Base","d":"solid"},{"h":16,"v":108,"s":"At Mixed-Layer Base","d":"solid"},{"h":16.5,"v":89,"s":"At Mixed-Layer Base","d":"solid"},{"h":17,"v":83,"s":"At Mixed-Layer Base","d":"solid"},{"h":17.5,"v":87,"s":"At Mixed-Layer Base","d":"solid"},{"h":18,"v":112,"s":"At Mixed-Layer Base","d":"solid"},{"h":18.5,"v":109,"s":"At Mixed-Layer Base","d":"solid"},{"h":19,"v":93,"s":"At Mixed-Layer Base","d":"solid"},{"h":19.5,"v":84,"s":"At Mixed-Layer Base","d":"solid"},{"h":20,"v":92,"s":"At Mixed-Layer Base","d":"solid"},{"h":20.5,"v":90,"s":"At Mixed-Layer Base","d":"solid"},{"h":21,"v":90,"s":"At Mixed-Layer Base","d":"solid"},{"h":21.5,"v":92,"s":"At Mixed-Layer Base","d":"solid"},{"h":22,"v":87,"s":"At Mixed-Layer Base","d":"solid"},{"h":22.5,"v":109,"s":"At Mixed-Layer Base","d":"solid"},{"h":23,"v":83,"s":"At Mixed-Layer Base","d":"solid"},{"h":23.5,"v":84,"s":"At Mixed-Layer Base","d":"solid"},{"h":24,"v":71,"s":"At Mixed-Layer Base","d":"solid"},{"h":24.5,"v":96,"s":"At Mixed-Layer Base","d":"solid"},{"h":25,"v":92,"s":"At Mixed-Layer Base","d":"solid"},{"h":25.5,"v":100,"s":"At Mixed-Layer Base","d":"solid"},{"h":26,"v":90,"s":"At Mixed-Layer Base","d":"solid"},{"h":26.5,"v":95,"s":"At Mixed-Layer Base","d":"solid"},{"h":27,"v":71,"s":"At Mixed-Layer Base","d":"solid"},{"h":27.5,"v":76,"s":"At Mixed-Layer Base","d":"solid"},{"h":28,"v":84,"s":"At Mixed-Layer Base","d":"solid"},{"h":28.5,"v":92,"s":"At Mixed-Layer Base","d":"solid"},{"h":29,"v":92,"s":"At Mixed-Layer Base","d":"solid"},{"h":29.5,"v":94,"s":"At Mixed-Layer Base","d":"solid"},{"h":30,"v":90,"s":"At Mixed-Layer Base","d":"solid"},{"h":31,"v":91,"s":"At Mixed-Layer Base","d":"solid"},{"h":32,"v":87,"s":"At Mixed-Layer Base","d":"solid"},{"h":33,"v":91,"s":"At Mixed-Layer Base","d":"solid"},{"h":34,"v":88,"s":"At Mixed-Layer Base","d":"solid"},{"h":35,"v":93,"s":"At Mixed-Layer Base","d":"solid"},{"h":35.5,"v":106,"s":"At Mixed-Layer Base","d":"solid"},{"h":36,"v":105,"s":"At Mixed-Layer Base","d":"solid"},{"h":36.5,"v":100,"s":"At Mixed-Layer Base","d":"solid"},{"h":37,"v":95,"s":"At Mixed-Layer Base","d":"solid"},{"h":37.5,"v":96,"s":"At Mixed-Layer Base","d":"solid"},{"h":38,"v":90,"s":"At Mixed-Layer Base","d":"solid"},{"h":38.5,"v":84,"s":"At Mixed-Layer Base","d":"solid"},{"h":39,"v":92,"s":"At Mixed-Layer Base","d":"solid"},{"h":39.5,"v":95,"s":"At Mixed-Layer Base","d":"solid"},{"h":40,"v":85,"s":"At Mixed-Layer Base","d":"solid"},
{"h":6,"v":205,"s":"At Mixed-Layer Base","d":"dashed"},{"h":6.25,"v":125,"s":"At Mixed-Layer Base","d":"dashed"},{"h":6.6,"v":123,"s":"At Mixed-Layer Base","d":"dashed"},{"h":7,"v":131,"s":"At Mixed-Layer Base","d":"dashed"},{"h":7.5,"v":115,"s":"At Mixed-Layer Base","d":"dashed"},{"h":8,"v":117,"s":"At Mixed-Layer Base","d":"dashed"},{"h":8.5,"v":108,"s":"At Mixed-Layer Base","d":"dashed"},{"h":9,"v":100,"s":"At Mixed-Layer Base","d":"dashed"},{"h":9.5,"v":92,"s":"At Mixed-Layer Base","d":"dashed"},{"h":10,"v":80,"s":"At Mixed-Layer Base","d":"dashed"},{"h":10.5,"v":87,"s":"At Mixed-Layer Base","d":"dashed"},{"h":11,"v":100,"s":"At Mixed-Layer Base","d":"dashed"},{"h":11.5,"v":106,"s":"At Mixed-Layer Base","d":"dashed"},{"h":12,"v":95,"s":"At Mixed-Layer Base","d":"dashed"},{"h":12.5,"v":84,"s":"At Mixed-Layer Base","d":"dashed"},{"h":13,"v":81,"s":"At Mixed-Layer Base","d":"dashed"},{"h":14,"v":71,"s":"At Mixed-Layer Base","d":"dashed"},{"h":15,"v":61,"s":"At Mixed-Layer Base","d":"dashed"},{"h":16,"v":55,"s":"At Mixed-Layer Base","d":"dashed"},{"h":17,"v":48,"s":"At Mixed-Layer Base","d":"dashed"},{"h":18,"v":45,"s":"At Mixed-Layer Base","d":"dashed"},{"h":19,"v":39,"s":"At Mixed-Layer Base","d":"dashed"},{"h":20,"v":35,"s":"At Mixed-Layer Base","d":"dashed"},{"h":21,"v":35,"s":"At Mixed-Layer Base","d":"dashed"},{"h":22,"v":29,"s":"At Mixed-Layer Base","d":"dashed"},{"h":23,"v":23,"s":"At Mixed-Layer Base","d":"dashed"},{"h":24,"v":26,"s":"At Mixed-Layer Base","d":"dashed"},{"h":25,"v":21,"s":"At Mixed-Layer Base","d":"dashed"},{"h":26,"v":20,"s":"At Mixed-Layer Base","d":"dashed"},{"h":27,"v":17,"s":"At Mixed-Layer Base","d":"dashed"},{"h":28,"v":21,"s":"At Mixed-Layer Base","d":"dashed"},{"h":29,"v":21,"s":"At Mixed-Layer Base","d":"dashed"},{"h":30,"v":18,"s":"At Mixed-Layer Base","d":"dashed"},{"h":31,"v":18,"s":"At Mixed-Layer Base","d":"dashed"},{"h":32,"v":18,"s":"At Mixed-Layer Base","d":"dashed"},{"h":33,"v":17,"s":"At Mixed-Layer Base","d":"dashed"},{"h":34,"v":17,"s":"At Mixed-Layer Base","d":"dashed"},{"h":35,"v":20,"s":"At Mixed-Layer Base","d":"dashed"},{"h":36,"v":15,"s":"At Mixed-Layer Base","d":"dashed"},{"h":37,"v":15,"s":"At Mixed-Layer Base","d":"dashed"},{"h":38,"v":14,"s":"At Mixed-Layer Base","d":"dashed"},{"h":39,"v":11,"s":"At Mixed-Layer Base","d":"dashed"},{"h":40,"v":17,"s":"At Mixed-Layer Base","d":"dashed"}
 ]},
 "layer":[
  {"mark":{"type":"line","strokeWidth":2.8,"clip":true},
   "encoding":{
    "x":{"field":"h","type":"quantitative","scale":{"domain":[6,40],"nice":false,"zero":false},"axis":{"orient":"bottom","values":[10,15,20,25,30,35,40],"labelExpr":"datum.value % 10 == 0 ? datum.label : ''","grid":true,"tickSize":8,"labelPadding":3,"title":null}},
    "y":{"field":"v","type":"quantitative","scale":{"domain":[-30,200],"nice":false,"zero":false},"axis":{"orient":"left","values":[0,40,80,120,160,200],"grid":true,"tickSize":9,"labelPadding":10,"title":"m L⁻¹ hr⁻¹","titlePadding":2}},
    "color":{"field":"s","type":"nominal","scale":{"domain":["At Mixed-Layer Top","At Mixed-Layer Base"],"range":["#ff0000","#000000"]},"legend":{"legendX":121,"legendY":31,"symbolType":"M-1.03,0H1.03","symbolSize":745,"labelOffset":3.5}},
    "strokeDash":{"field":"d","type":"nominal","scale":{"domain":["solid","dashed"],"range":[[1,0],[12,5]]},"legend":null}
   }},
  {"mark":{"type":"point","opacity":0,"clip":true},
   "encoding":{
    "x":{"field":"h","type":"quantitative","scale":{"domain":[6,40],"nice":false,"zero":false},"axis":{"orient":"bottom","values":[6,7,8,9,10,11,12,13,14,15,16,17,18,19,20,21,22,23,24,25,26,27,28,29,30,31,32,33,34,35,36,37,38,39,40],"labelExpr":"datum.value == 24 ? 'hour' : ''","tickSize":4.5,"labelPadding":6.5,"title":null}},
    "y":{"field":"v","type":"quantitative","scale":{"domain":[-30,200],"nice":false,"zero":false},"axis":{"orient":"right","values":[0,40,80,120,160,200],"labels":false,"tickSize":7,"title":null}}
   }},
  {"mark":{"type":"point","opacity":0,"clip":true},
   "encoding":{
    "x":{"field":"h","type":"quantitative","scale":{"domain":[6,40],"nice":false,"zero":false},"axis":{"orient":"top","values":[10,15,20,25,30,35,40],"labels":false,"tickSize":9,"title":null}},
    "y":{"field":"v","type":"quantitative","scale":{"domain":[-30,200],"nice":false,"zero":false},"axis":{"orient":"left","values":[-30,-20,-10,0,10,20,30,40,50,60,70,80,90,100,110,120,130,140,150,160,170,180,190,200],"labels":false,"tickSize":3.5,"title":null}}
   }},
  {"mark":{"type":"point","opacity":0,"clip":true},
   "encoding":{
    "x":{"field":"h","type":"quantitative","scale":{"domain":[6,40],"nice":false,"zero":false},"axis":{"orient":"top","values":[6,7,8,9,10,11,12,13,14,15,16,17,18,19,20,21,22,23,24,25,26,27,28,29,30,31,32,33,34,35,36,37,38,39,40],"labels":false,"tickSize":4.5,"title":null}},
    "y":{"field":"v","type":"quantitative","scale":{"domain":[-30,200],"nice":false,"zero":false},"axis":{"orient":"right","values":[-30,-20,-10,0,10,20,30,40,50,60,70,80,90,100,110,120,130,140,150,160,170,180,190,200],"labels":false,"tickSize":3.5,"title":null}}
   }}
 ],
 "resolve":{"axis":{"x":"independent","y":"independent"}}
}
]
}
